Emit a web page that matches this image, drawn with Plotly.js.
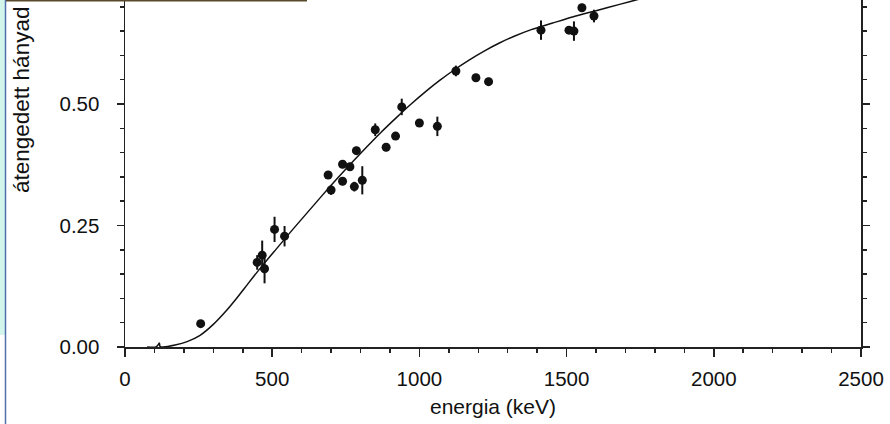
<!DOCTYPE html>
<html>
<head>
<meta charset="utf-8">
<script src="https://cdn.plot.ly/plotly-3.0.1.min.js"></script>
<style>
html,body{margin:0;padding:0;background:#fff;overflow:hidden;}
#chart{width:890px;height:424px;}
</style>
</head>
<body>
<div id="chart"></div>
<script>
// measured points: energy (keV), transmitted fraction, error
const energy = [257, 449, 466, 474, 508, 542, 690, 700, 739, 739, 764, 779, 786, 806, 850, 887, 919, 940, 1000, 1061, 1124, 1192, 1235, 1413, 1508, 1525, 1552, 1593];
const fraction = [0.048, 0.174, 0.189, 0.161, 0.242, 0.228, 0.354, 0.323, 0.376, 0.341, 0.371, 0.330, 0.404, 0.343, 0.447, 0.411, 0.434, 0.494, 0.461, 0.454, 0.568, 0.554, 0.546, 0.652, 0.652, 0.650, 0.698, 0.681];
const fracErr = [0, 0.015, 0.030, 0.030, 0.026, 0.021, 0.008, 0.010, 0.008, 0.008, 0.008, 0.010, 0.008, 0.029, 0.013, 0.008, 0.008, 0.017, 0.008, 0.020, 0.011, 0.008, 0.008, 0.020, 0.008, 0.020, 0.008, 0.013];

// fitted curve
const fitEnergy = [75, 105, 112, 117, 119, 130, 170, 211, 255, 299, 340, 380, 420, 470, 520, 570, 620, 670, 720, 770, 820, 870, 920, 970, 1020, 1070, 1120, 1170, 1220, 1270, 1320, 1380, 1450, 1520, 1600, 1680, 1760, 1840];
const fitFraction = [0, 0, 0.004, 0.008, 0.001, 0.000, 0.004, 0.011, 0.024, 0.046, 0.072, 0.101, 0.132, 0.170, 0.206, 0.242, 0.277, 0.312, 0.346, 0.379, 0.411, 0.442, 0.471, 0.499, 0.525, 0.549, 0.571, 0.591, 0.609, 0.625, 0.639, 0.653, 0.666, 0.679, 0.692, 0.705, 0.718, 0.731];

const xTitle = 'energia (keV)';
const yTitle = 'átengedett hányad';

const ink = '#111111';
const font = 'Liberation Sans, Arial, Helvetica, sans-serif';

const traces = [
  {
    x: fitEnergy, y: fitFraction, type: 'scatter', mode: 'lines',
    line: {color: ink, width: 1.5, shape: 'spline', smoothing: 0.6},
    hoverinfo: 'skip', showlegend: false, cliponaxis: true
  },
  {
    x: energy, y: fraction, type: 'scatter', mode: 'markers',
    marker: {color: ink, size: 9},
    error_y: {type: 'data', array: fracErr, visible: true, color: ink, thickness: 2, width: 0},
    showlegend: false
  }
];

const px2paperX = p => (p - 125) / 736;
const px2paperY = p => (347 - p) / 347;

const layout = {
  width: 890, height: 424,
  margin: {l: 125, r: 29, t: 0, b: 77, pad: 0},
  paper_bgcolor: '#ffffff', plot_bgcolor: '#ffffff',
  font: {family: font, color: ink, size: 20},
  showlegend: false,
  xaxis: {
    range: [0, 2500], tick0: 0, dtick: 500,
    ticks: 'outside', ticklen: 8, tickwidth: 1.5, tickcolor: '#222',
    showline: true, linecolor: '#222', linewidth: 1.5, mirror: false,
    showgrid: false, zeroline: false, ticklabelstandoff: 5,
    minor: {dtick: 100, ticks: 'outside', ticklen: 4, tickwidth: 1.5, tickcolor: '#222', showgrid: false},
    tickfont: {family: font, size: 20.5, color: ink},
    title: {text: xTitle, font: {family: font, size: 21, color: ink}, standoff: 10}
  },
  yaxis: {
    range: [0, 0.714], tick0: 0, dtick: 0.25, tickformat: '.2f',
    ticks: 'outside', ticklen: 7, tickwidth: 1.5, tickcolor: '#222',
    showline: true, linecolor: '#222', linewidth: 1.5, mirror: 'allticks',
    showgrid: false, zeroline: false, ticklabelstandoff: 13,
    minor: {dtick: 0.05, ticks: 'outside', ticklen: 4, tickwidth: 1.5, tickcolor: '#222', showgrid: false},
    tickfont: {family: font, size: 20.5, color: ink}
  },
  annotations: [
    {
      text: yTitle, xref: 'paper', yref: 'paper',
      x: px2paperX(22), y: px2paperY(100), xanchor: 'center', yanchor: 'middle',
      textangle: -90, showarrow: false,
      font: {family: font, size: 22.5, color: ink}
    }
  ],
  shapes: [
    {type: 'rect', xref: 'paper', yref: 'paper', x0: px2paperX(0), x1: px2paperX(5), y0: px2paperY(335), y1: 1,
     fillcolor: '#d3f6ec', line: {width: 0}, layer: 'below'},
    {type: 'line', xref: 'paper', yref: 'paper', x0: px2paperX(5.5), x1: px2paperX(5.5), y0: px2paperY(424), y1: 1,
     line: {color: '#4f6fae', width: 1.5}},
    {type: 'rect', xref: 'paper', yref: 'paper', x0: px2paperX(6), x1: px2paperX(307), y0: px2paperY(1.5), y1: 1,
     fillcolor: '#5a4a2c', line: {width: 0}}
  ]
};

Plotly.newPlot('chart', traces, layout, {displayModeBar: false, staticPlot: true});
</script>
</body>
</html>
